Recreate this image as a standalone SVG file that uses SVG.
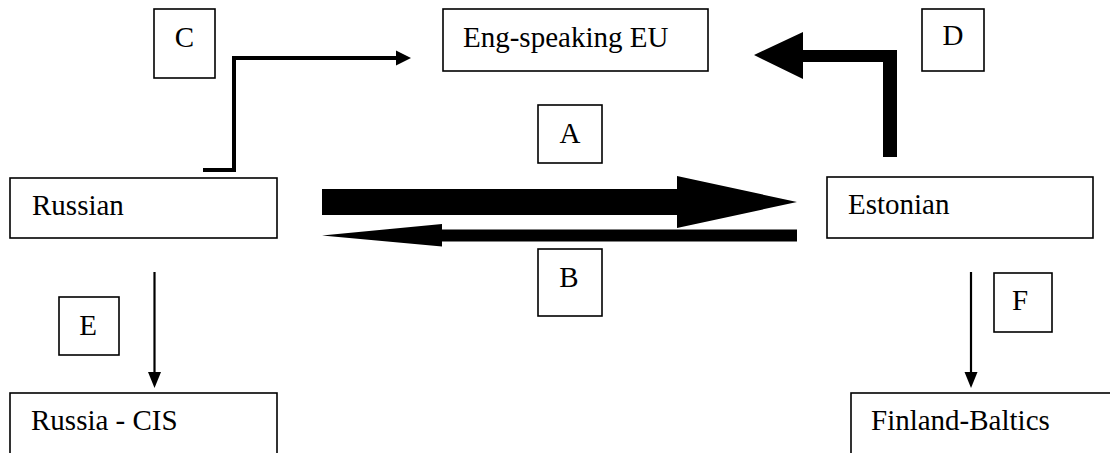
<svg xmlns="http://www.w3.org/2000/svg" width="1110" height="453" viewBox="0 0 1110 453">
<style>
.box{fill:#fff;stroke:#000;stroke-width:1.6}
.t{font-family:"Liberation Serif","Times New Roman",serif;font-size:29px;fill:#000}
.c{text-anchor:middle}
.ln{fill:none;stroke:#000}
</style>
<defs>
<marker id="ah" markerWidth="8" markerHeight="8" refX="7" refY="4" orient="auto" markerUnits="userSpaceOnUse" viewBox="0 0 8 8">
<path d="M0,0 L8,4 L0,8 Z" fill="#000"/>
</marker>
</defs>
<rect width="1110" height="453" fill="#fff"/>
<g id="connectors">
<path id="conn-C" class="ln" stroke-width="4" d="M203,170 H234 V58 H398"/>
<path d="M396,50.5 L411,58 L396,65.5 Z" fill="#000"/>
<path id="conn-D" d="M897,157 V50 H803 V32 L754,55 L803,79 V62 H883 V157 Z" fill="#000"/>
<path id="conn-A" d="M322,189 H677 V176 L797,202 L677,228 V215 H322 Z" fill="#000"/>
<path id="conn-B" d="M797,229.5 H442 V224 L322,235.5 L442,246.5 V241.5 H797 Z" fill="#000"/>
<line id="conn-E" class="ln" stroke-width="2.2" x1="154.5" y1="272" x2="154.5" y2="374"/>
<path d="M148,372 L154.5,388 L161,372 Z" fill="#000"/>
<line id="conn-F" class="ln" stroke-width="2.2" x1="971" y1="272" x2="971" y2="374"/>
<path d="M964.5,372 L971,388 L977.5,372 Z" fill="#000"/>
</g>
<g id="node-eu"><rect class="box" x="443" y="9" width="265" height="62"/><text class="t" x="463" y="47">Eng-speaking EU</text></g>
<g id="node-russian"><rect class="box" x="10" y="178" width="267" height="60"/><text class="t" x="32" y="215">Russian</text></g>
<g id="node-estonian"><rect class="box" x="827" y="177" width="266" height="61"/><text class="t" x="848" y="214">Estonian</text></g>
<g id="node-cis"><rect class="box" x="10" y="393" width="267" height="70"/><text class="t" x="31" y="430">Russia - CIS</text></g>
<g id="node-fin"><rect class="box" x="851" y="393" width="270" height="70"/><text class="t" x="871" y="430">Finland-Baltics</text></g>
<g id="label-A"><rect class="box" x="538" y="105" width="64" height="58"/><text class="t c" x="570" y="143">A</text></g>
<g id="label-B"><rect class="box" x="538" y="249" width="64" height="67"/><text class="t c" x="569" y="287">B</text></g>
<g id="label-C"><rect class="box" x="154" y="9" width="61" height="69"/><text class="t c" x="184.5" y="47">C</text></g>
<g id="label-D"><rect class="box" x="922" y="9" width="62" height="62"/><text class="t c" x="953" y="45">D</text></g>
<g id="label-E"><rect class="box" x="59" y="297" width="60" height="58"/><text class="t c" x="88" y="335">E</text></g>
<g id="label-F"><rect class="box" x="994" y="273" width="58" height="59"/><text class="t c" x="1020" y="310">F</text></g>
</svg>
